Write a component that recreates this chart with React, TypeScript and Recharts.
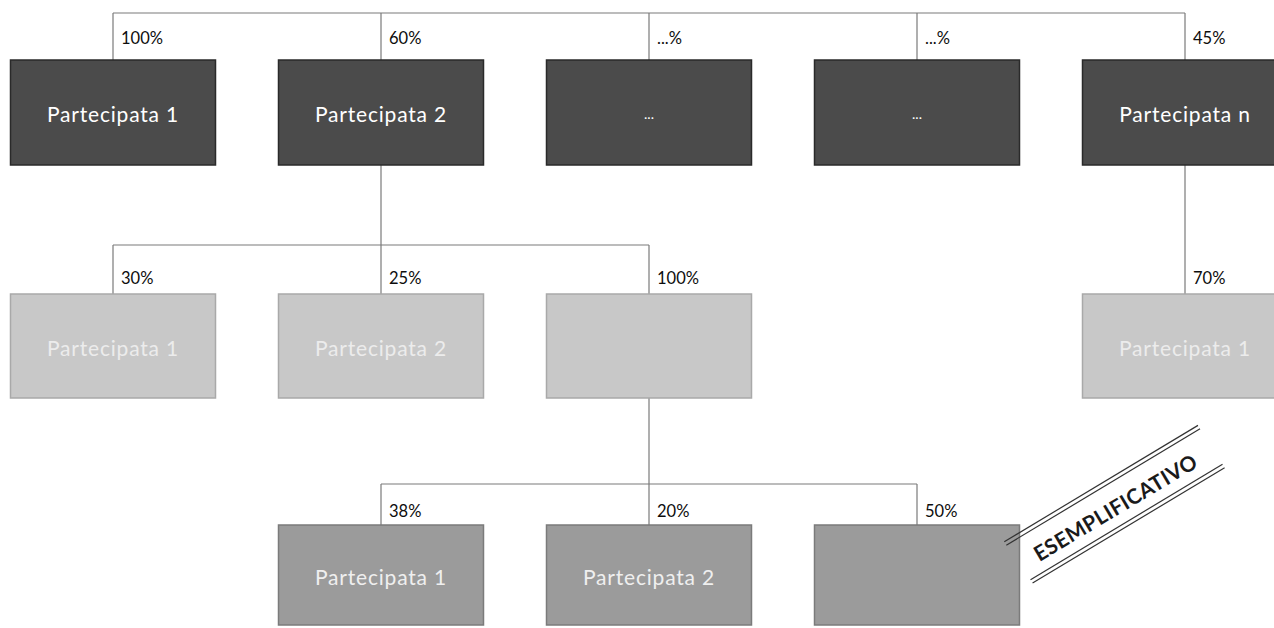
import React from "react";
import { ScatterChart, Scatter, XAxis, YAxis, ReferenceLine } from "recharts";

// Livello 1 - partecipate dirette
const level1Names = ["Partecipata 1", "Partecipata 2", "...", "...", "Partecipata n"];
const level1Shares = ["100%", "60%", "...%", "...%", "45%"];
const level1Cols = [0, 1, 2, 3, 4];

// Livello 2
const level2Names = ["Partecipata 1", "Partecipata 2", "", "Partecipata 1"];
const level2Shares = ["30%", "25%", "100%", "70%"];
const level2Cols = [0, 1, 2, 4];
const level2Parents = [1, 1, 1, 4];

// Livello 3
const level3Names = ["Partecipata 1", "Partecipata 2", ""];
const level3Shares = ["38%", "20%", "50%"];
const level3Cols = [1, 2, 3];
const level3Parents = [2, 2, 2];

const watermarkText = "ESEMPLIFICATIVO";

// layout
const W = 1274;
const H = 628;
const COL0 = 113;
const COL_STEP = 268;
const ROW_TOP = [60, 294, 525];
const ROW_H = [105, 104, 100];
const BAR_Y = [13, 245, 484];
const LABEL_Y = [44, 284, 517];
const BOX_W = 205;
const FILL = ["#4b4b4b", "#c8c8c8", "#9b9b9b"];
const EDGE = ["#2a2a2a", "#a9a9a9", "#7b7b7b"];
const TEXT_FILL = ["#ffffff", "#ececec", "#efefef"];
const LINE = "#7a7a7a";
const FONT = "Lato, 'Open Sans', sans-serif";
const WM_POS = { x: (1114 - COL0) / COL_STEP, y: 505 };

const levels = [
  { names: level1Names, shares: level1Shares, cols: level1Cols, parents: level1Cols.map(() => -1) },
  { names: level2Names, shares: level2Shares, cols: level2Cols, parents: level2Parents },
  { names: level3Names, shares: level3Shares, cols: level3Cols, parents: level3Parents },
];

const nodes = levels.flatMap((lv, l) =>
  lv.cols.map((c, i) => ({
    x: c,
    y: ROW_TOP[l] + ROW_H[l] / 2,
    level: l,
    name: lv.names[i],
    share: lv.shares[i],
  }))
);

// connettori: stelo dal padre, barra orizzontale, discese verso i figli
type Seg = [{ x: number; y: number }, { x: number; y: number }];
const segments: Seg[] = [];
levels.forEach((lv, l) => {
  const groups = new Map<number, number[]>();
  lv.cols.forEach((c, i) => {
    const p = lv.parents[i];
    if (!groups.has(p)) groups.set(p, []);
    groups.get(p)!.push(c);
  });
  groups.forEach((kids, p) => {
    const all = p >= 0 ? [...kids, p] : kids;
    const lo = Math.min(...all);
    const hi = Math.max(...all);
    if (p >= 0) {
      segments.push([{ x: p, y: ROW_TOP[l - 1] + ROW_H[l - 1] }, { x: p, y: BAR_Y[l] }]);
    }
    if (hi > lo) segments.push([{ x: lo, y: BAR_Y[l] }, { x: hi, y: BAR_Y[l] }]);
    kids.forEach((c) => segments.push([{ x: c, y: BAR_Y[l] }, { x: c, y: ROW_TOP[l] }]));
  });
});

const NodeBox = (props: any) => {
  const { cx, payload } = props;
  const l = payload.level;
  const top = ROW_TOP[l];
  const h = ROW_H[l];
  const dots = payload.name === "...";
  return (
    <g>
      <rect x={cx - BOX_W / 2} y={top} width={BOX_W} height={h} fill={FILL[l]} stroke={EDGE[l]} strokeWidth={1.5} />
      <text
        x={cx}
        y={top + h / 2 + 1}
        textAnchor="middle"
        dominantBaseline="central"
        fontFamily={FONT}
        fontSize={dots ? 14 : 21}
        letterSpacing={dots ? 0 : 0.8}
        fill={TEXT_FILL[l]}
      >
        {payload.name}
      </text>
      <text x={cx + 8} y={LABEL_Y[l]} fontFamily={FONT} fontSize={16.5} fill="#0d0d0d">
        {payload.share}
      </text>
    </g>
  );
};

const Watermark = (props: any) => {
  const { cx, cy } = props;
  const lineProps = { stroke: "#333", strokeWidth: 1.2 };
  return (
    <g transform={`translate(${cx},${cy}) rotate(-31)`}>
      <line x1={-113} y1={-25} x2={113} y2={-25} {...lineProps} />
      <line x1={-113} y1={-21} x2={113} y2={-21} {...lineProps} />
      <text
        x={0}
        y={2}
        textAnchor="middle"
        dominantBaseline="central"
        fontFamily={FONT}
        fontSize={21}
        fontWeight={700}
        letterSpacing={0.4}
        fill="#1a1a1a"
      >
        {watermarkText}
      </text>
      <line x1={-110} y1={21} x2={114} y2={21} {...lineProps} />
      <line x1={-110} y1={25} x2={114} y2={25} {...lineProps} />
    </g>
  );
};

export default function App() {
  return (
    <div style={{ position: "absolute", left: 0, top: 0, width: W, height: H, background: "#fff" }}>
      <ScatterChart width={W} height={H} margin={{ top: 0, right: 0, bottom: 0, left: 0 }}>
        <XAxis
          type="number"
          dataKey="x"
          domain={[-COL0 / COL_STEP, (W - COL0) / COL_STEP]}
          allowDataOverflow
          hide
        />
        <YAxis type="number" dataKey="y" domain={[0, H]} reversed allowDataOverflow hide />
        {segments.map((s, i) => (
          <ReferenceLine key={i} segment={s} stroke={LINE} strokeWidth={1.2} ifOverflow="visible" />
        ))}
        <Scatter data={nodes} shape={(p: any) => <NodeBox {...p} />} isAnimationActive={false} />
        <Scatter data={[WM_POS]} shape={(p: any) => <Watermark {...p} />} isAnimationActive={false} />
      </ScatterChart>
    </div>
  );
}
